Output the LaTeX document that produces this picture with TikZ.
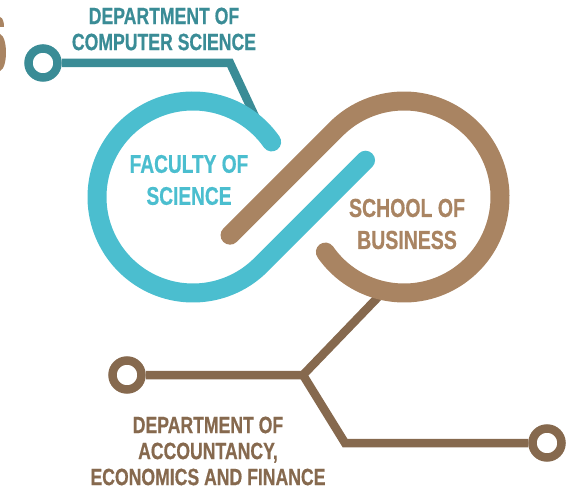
\documentclass[tikz,border=0pt]{standalone}
\usepackage{fontspec}
\setmainfont[FakeStretch=0.75, BoldFeatures={FakeBold=0.6}]{Liberation Sans}
\usepackage{tikz}
\usetikzlibrary{calc}
\pgfdeclarelayer{background}
\pgfsetlayers{background,main}
\definecolor{ringblue}{HTML}{4BBECF}
\definecolor{ringbrown}{HTML}{A98462}
\definecolor{linkteal}{HTML}{3A8C96}
\definecolor{linkbrown}{HTML}{86694E}
\tikzset{
  ring/.style={line width=19pt, line cap=round},
  link/.style={line width=8.5pt, line join=miter},
  endring/.style={circle, draw, line width=8.5pt, minimum size=29pt, inner sep=0pt, fill=white},
  label/.style={align=center, inner sep=0pt, font=\bfseries}
}

\begin{document}
\begin{tikzpicture}[x=1pt,y=1pt]
\useasboundingbox (0,0) rectangle (567,490);
\coordinate (fac) at (193,293);
\coordinate (bus) at (404,293);
\begin{pgfonlayer}{background}
% teal link to the computer science department
\node[endring, draw=linkteal] (cs) at (43,427) {};
\coordinate (csknee) at (230,427);
\draw[link, linkteal] (cs.east) -- (csknee) -- ($(fac)+(45:96)$);
% brown links to the accountancy department
\node[endring, draw=linkbrown] (acl) at (127,115) {};
\node[endring, draw=linkbrown] (acr) at (547,47) {};
\coordinate (acfork) at (303,115);
\coordinate (acknee) at (345,47);
\draw[link, linkbrown] ($(bus)+(258:96)$) -- (acfork) -- (acl.east);
\draw[link, linkbrown] (acfork) -- (acknee) -- (acr.west);
\end{pgfonlayer}
% the two loops
\draw[ring, ringblue] ($(fac)+(35:96)$) arc[start angle=35, end angle=315, radius=96] -- ++(45:148);
\draw[ring, ringbrown] ($(bus)+(215:96)$) arc[start angle=215, end angle=495, radius=96] -- ++(225:150);
% cut off letter at the left edge
\fill[ringbrown] (0,473) .. controls (3,472) and (4,468) .. (4,463) -- (0,463) -- cycle;
\fill[ringbrown] (0,456) .. controls (8,453) and (8,422) .. (0,419) -- cycle;
% texts
\node[label, text=linkteal, font=\bfseries\fontsize{23.5}{26}\selectfont] (cstext) at (164,461) {DEPARTMENT OF\\COMPUTER SCIENCE};
\node[label, text=ringblue, font=\bfseries\fontsize{25.5}{32}\selectfont] (factext) at (189,310) {FACULTY OF\\SCIENCE};
\node[label, text=ringbrown, font=\bfseries\fontsize{26}{32}\selectfont] (bustext) at (407,266) {SCHOOL OF\\BUSINESS};
\node[label, text=linkbrown, font=\bfseries\fontsize{23.5}{26}\selectfont] (actext) at (208,39) {DEPARTMENT OF\\ACCOUNTANCY,\\ECONOMICS AND FINANCE};
\end{tikzpicture}
\end{document}
